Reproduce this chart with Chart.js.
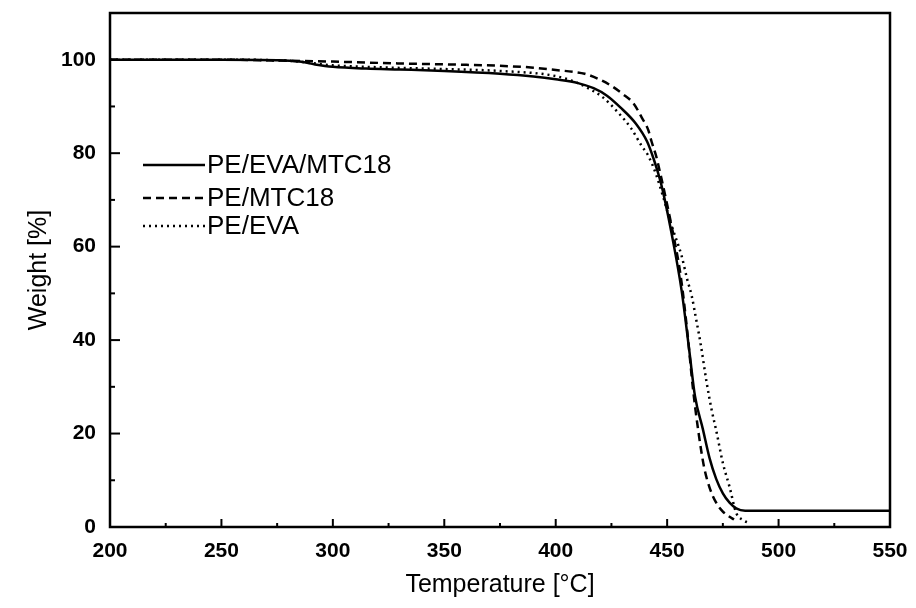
<!DOCTYPE html>
<html><head><meta charset="utf-8">
<script src="https://cdn.jsdelivr.net/npm/chart.js@4/dist/chart.umd.min.js"></script>
<style>html,body{margin:0;padding:0;background:#fff;}canvas{display:block;}</style>
</head><body>
<canvas id="c" width="916" height="608"></canvas>
<script>
const seriesNames = ['PE/EVA/MTC18', 'PE/MTC18', 'PE/EVA'];

const tempSolid   = [200,250,275,285,292,300,315,330,350,375,390,400,410,417,423,429,436,441,444,447,449,452,456.5,460,462.5,466,469,472,475,478,481,485,500,550];
const weightSolid = [100,100,99.9,99.6,99.0,98.5,98.1,97.9,97.6,97.0,96.4,95.8,95.0,93.9,92.3,89.8,86.3,82.5,78.7,74.0,69.9,62.8,50.6,37.5,28.0,21.0,14.8,10.3,7.2,5.2,4.0,3.5,3.5,3.5];

const tempDashed   = [200,250,280,300,330,360,375,390,400,408,413,420,425,430,435,438.5,441.5,443,445,447,450,453,456,459,461.5,464,466.5,469,472,475,478,480];
const weightDashed = [100,100,99.8,99.6,99.2,98.9,98.7,98.3,97.8,97.4,97.0,95.7,94.4,92.7,90.6,87.7,85.0,82.5,79.5,75.5,69.0,62.0,54.0,42.0,30.0,20.5,13.0,8.5,5.2,3.3,2.2,1.6];

const tempDotted   = [200,250,280,290,300,320,350,375,400,410,415,421,428,434,438.5,441.5,445,448,452,456.5,459,461,463,465,467.7,470,472,475,478,481,484,487];
const weightDotted = [100,100,99.8,99.3,98.8,98.4,98.0,97.6,96.5,95.0,93.8,92.0,88.7,85.2,81.6,79.5,75.5,71.0,64.5,58.0,53.0,49.5,44.5,39.3,31.0,25.0,20.7,13.7,8.6,3.0,1.5,0.8];

const xMajorTicks = [200,250,300,350,400,450,500,550];
const xMinorTicks = [225,275,325,375,425,475,525];
const yMajorTicks = [0,20,40,60,80,100];
const yMinorTicks = [10,30,50,70,90];

const xLabel = 'Temperature [°C]';
const yLabel = 'Weight [%]';

function pts(t, w) { return t.map((v, i) => ({x: v, y: w[i]})); }

const dashStyles = [[], [8, 5], [2, 4]];
const FONT = '"Liberation Sans", Arial, sans-serif';

const framePlugin = {
  id: 'frame',
  afterDraw(chart) {
    const {ctx, chartArea: a, scales} = chart;
    ctx.save();
    ctx.strokeStyle = '#000';
    ctx.lineWidth = 2.5;
    ctx.strokeRect(a.left, a.top, a.right - a.left, a.bottom - a.top);
    ctx.lineWidth = 2;
    const tick = (vals, len, axis) => {
      vals.forEach(v => {
        ctx.beginPath();
        if (axis === 'x') {
          const px = scales.x.getPixelForValue(v);
          ctx.moveTo(px, a.bottom); ctx.lineTo(px, a.bottom - len);
        } else {
          const py = scales.y.getPixelForValue(v);
          ctx.moveTo(a.left, py); ctx.lineTo(a.left + len, py);
        }
        ctx.stroke();
      });
    };
    tick(xMajorTicks, 8, 'x'); tick(xMinorTicks, 4, 'x');
    tick(yMajorTicks, 10, 'y'); tick(yMinorTicks, 5, 'y');
    // legend
    const rows = [165, 198, 226];
    ctx.font = '26px ' + FONT;
    ctx.fillStyle = '#000';
    ctx.textBaseline = 'middle';
    chart.data.datasets.forEach((ds, i) => {
      ctx.beginPath();
      ctx.setLineDash(ds.borderDash || []);
      ctx.lineWidth = 2.5;
      ctx.moveTo(143, rows[i]); ctx.lineTo(205, rows[i]);
      ctx.stroke();
      ctx.setLineDash([]);
      ctx.fillText(ds.label, 207, rows[i] + 1);
    });
    ctx.restore();
  }
};

new Chart(document.getElementById('c'), {
  type: 'line',
  data: {
    datasets: [
      {label: seriesNames[0], data: pts(tempSolid, weightSolid), borderDash: dashStyles[0]},
      {label: seriesNames[1], data: pts(tempDashed, weightDashed), borderDash: dashStyles[1]},
      {label: seriesNames[2], data: pts(tempDotted, weightDotted), borderDash: dashStyles[2]}
    ].map(d => Object.assign(d, {borderColor: '#000', borderWidth: 2.5, pointRadius: 0, fill: false, cubicInterpolationMode: 'monotone'}))
  },
  options: {
    responsive: false,
    animation: false,
    layout: {padding: {top: 13, right: 26, left: 0, bottom: 0}},
    plugins: {legend: {display: false}, tooltip: {enabled: false}},
    scales: {
      x: {
        type: 'linear', min: 200, max: 550,
        afterBuildTicks: s => { s.ticks = xMajorTicks.map(v => ({value: v})); },
        afterFit: s => { s.height = 81; s.paddingLeft = 0; s.paddingRight = 0; },
        grid: {display: false, drawTicks: false},
        border: {display: false},
        ticks: {color: '#000', padding: 12, font: {family: FONT, size: 21, weight: 'bold'}},
        title: {display: true, text: xLabel, color: '#000', padding: {top: 0, bottom: 8}, font: {family: FONT, size: 25}}
      },
      y: {
        type: 'linear', min: 0, max: 110,
        afterBuildTicks: s => { s.ticks = yMajorTicks.map(v => ({value: v})); },
        afterFit: s => { s.width = 110; s.paddingTop = 0; s.paddingBottom = 0; },
        grid: {display: false, drawTicks: false},
        border: {display: false},
        ticks: {color: '#000', padding: 14, font: {family: FONT, size: 21, weight: 'bold'}},
        title: {display: true, text: yLabel, color: '#000', padding: {top: 24, bottom: 0}, font: {family: FONT, size: 25}}
      }
    }
  },
  plugins: [framePlugin]
});
</script>
</body></html>
